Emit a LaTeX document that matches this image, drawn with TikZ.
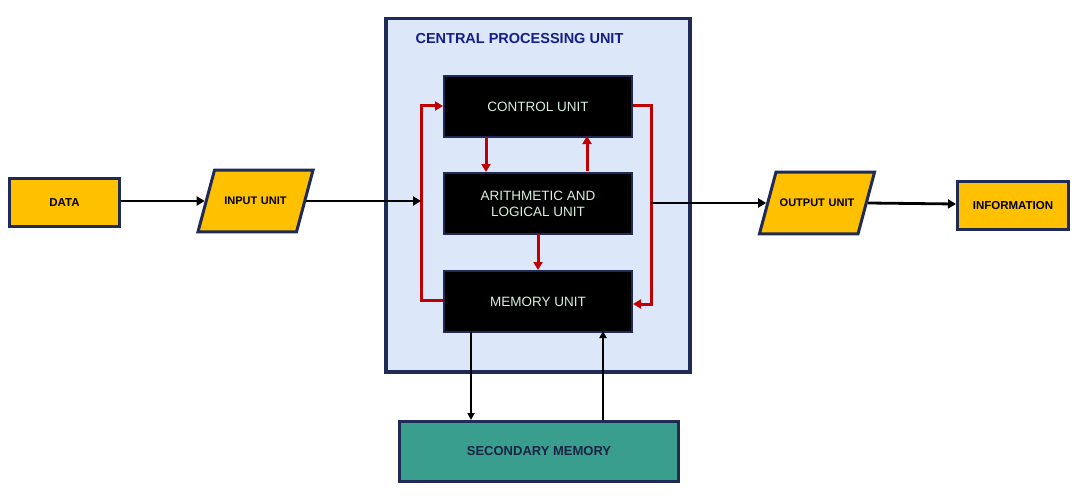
\documentclass[tikz,border=0pt]{standalone}
\usepackage{fontspec}
\setmainfont{Liberation Sans}
\usetikzlibrary{arrows.meta,shapes.geometric}
\definecolor{navy}{HTML}{1F2A55}
\definecolor{cpubg}{HTML}{DCE8FA}
\definecolor{gold}{HTML}{FFC000}
\definecolor{dred}{HTML}{C00000}
\definecolor{teal2}{HTML}{3A9E8E}
\definecolor{mint}{HTML}{D8F0E0}
\begin{document}
\begin{tikzpicture}[x=1pt,y=-1pt,
 blk/.style={draw=navy,line width=2pt,fill=black,text=mint,font=\fontsize{13.5}{16}\selectfont,align=center,minimum width=188pt,minimum height=61pt,anchor=north west},
 ybox/.style={draw=navy,line width=3pt,fill=gold,font=\bfseries\fontsize{11.5}{13}\selectfont,anchor=north west},
 para/.style={trapezium,trapezium left angle=75,trapezium right angle=105,draw=navy,line width=3pt,fill=gold,font=\bfseries\fontsize{11}{13}\selectfont,text width=82pt,align=center,inner xsep=0pt,inner ysep=27pt},
 rarr/.style={dred,line width=3pt,-{Triangle[length=8pt,width=9pt]}},
 karr/.style={black,line width=2.8pt,-{Triangle[length=8pt,width=9pt]}},
 tarr/.style={black,line width=2pt,-{Triangle[length=7pt,width=7pt]}}]
\useasboundingbox (0,0) rectangle (1080,503);
\node[draw=navy,line width=3.5pt,fill=cpubg,minimum width=304pt,minimum height=353pt,anchor=north west] (cpu) at (384,17) {};
\node[text=navy!70!blue,font=\bfseries\fontsize{14.5}{17}\selectfont,anchor=west] (cput) at (412,39) {CENTRAL PROCESSING UNIT};
\node[blk] (cu) at (443,75) {CONTROL UNIT};
\node[blk] (alu) at (443,172) {ARITHMETIC AND\\LOGICAL UNIT};
\node[blk] (mu) at (443,270) {MEMORY UNIT};
\node[ybox,minimum width=110pt,minimum height=48pt] (data) at (8,177) {DATA};
\node[para] (in) at (255.5,201) {INPUT UNIT};
\node[para] (out) at (817,203) {OUTPUT UNIT};
\node[ybox,minimum width=111pt,minimum height=48pt] (info) at (956,180) {INFORMATION};
\node[draw=navy,line width=3pt,fill=teal2,minimum width=279pt,minimum height=60pt,anchor=north west,font=\bfseries\fontsize{13}{15}\selectfont,text=navy!80!black] (sec) at (398,420) {SECONDARY MEMORY};
\coordinate (lj) at (421,201);
\coordinate (rj) at (651,203);
% red loop
\draw[rarr] (mu.west |- 0,300) -- (421,300) -- (421,106) -- (cu.west |- 0,106);
\draw[rarr] (cu.east |- 0,106) -- (651,106) -- (651,304) -- (mu.east |- 0,304);
\draw[rarr] (486,137) -- (486,172);
\draw[rarr] (587,171) -- (587,136);
\draw[rarr] (538,234) -- (538,270);
% black flow
\draw[karr] (data.east |- 0,201) -- (in.west |- 0,201);
\draw[karr] (in.east |- 0,201) -- (lj);
\draw[karr] (rj) -- (out.west |- 0,203);
\draw[karr] (out.east |- 0,203) -- (info.west |- 0,204);
\draw[tarr] (471,332) -- (471,420);
\draw[tarr] (603,420) -- (603,331);
\end{tikzpicture}
\end{document}
